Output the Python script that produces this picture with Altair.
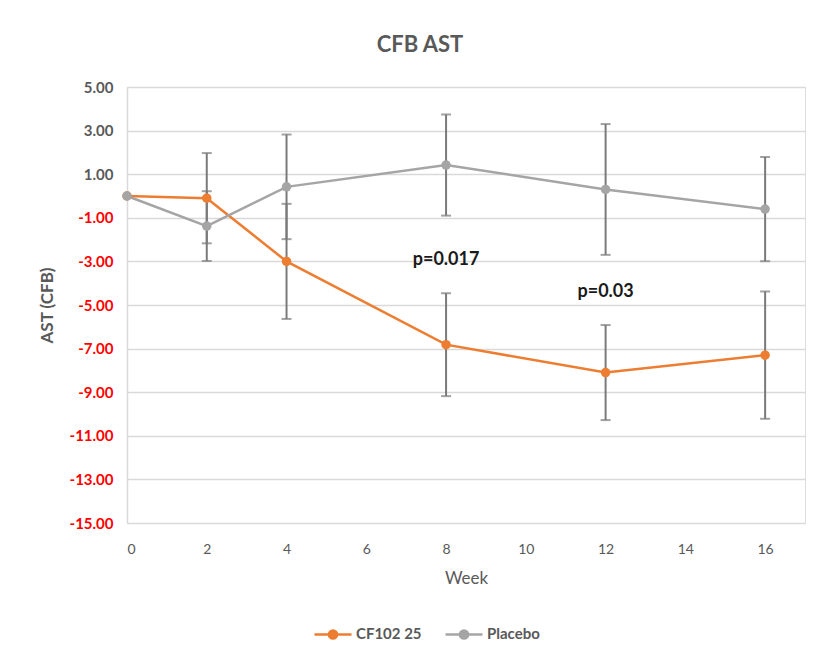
import altair as alt
import pandas as pd

weeks = [0, 2, 4, 8, 12, 16]
series_names = ["CF102 25", "Placebo"]
cf102_mean = [0.0, -0.1, -3.0, -6.82, -8.1, -7.3]
cf102_err = [0.0, 2.07, 2.64, 2.36, 2.18, 2.92]
placebo_mean = [0.0, -1.38, 0.42, 1.42, 0.3, -0.6]
placebo_err = [0.0, 1.6, 2.4, 2.32, 3.0, 2.39]

ann_text = ["p=0.017", "p=0.03"]
ann_week = [8, 12]
ann_y = [-2.94, -4.4]

y_ticks = [5, 3, 1, -1, -3, -5, -7, -9, -11, -13, -15]
x_ticks = [0, 2, 4, 6, 8, 10, 12, 14, 16]

rows = []
for name, m, e in [(series_names[0], cf102_mean, cf102_err), (series_names[1], placebo_mean, placebo_err)]:
    for w, v, s in zip(weeks, m, e):
        rows.append({"series": name, "week": w, "value": v, "lo": v - s, "hi": v + s, "err": s})
df = pd.DataFrame(rows)
err_df = df[df["err"] > 0]
ann_df = pd.DataFrame({"text": ann_text, "week": ann_week, "y": ann_y})

FONT = "Lato"
GREY_TXT = "#595959"

xscale = alt.Scale(domain=[0, 17], nice=False, zero=False)
yscale = alt.Scale(domain=[-15, 5], nice=False, zero=False)
color_scale = alt.Scale(domain=series_names, range=["#ED7D31", "#A5A5A5"])

x_enc = alt.X("week:Q", scale=xscale, title="Week",
              axis=alt.Axis(values=x_ticks, grid=False, domain=False, ticks=False,
                            labelPadding=19, titlePadding=14, labelFontSize=14,
                            labelColor=GREY_TXT, titleFontSize=17, titleColor=GREY_TXT,
                            titleFontWeight="normal", labelFont=FONT, titleFont=FONT))
y_axis = alt.Axis(values=y_ticks, grid=True, gridColor="#D9D9D9", gridWidth=1.3,
                  labelExpr="replace(format(datum.value, '.2f'), '\u2212', '-')",
                  domain=True, domainColor="#D9D9D9", domainWidth=1.5, ticks=False,
                  labelPadding=14, labelFontSize=15, labelFontWeight="bold",
                  labelColor={"expr": "datum.value < 0 ? '#FF0000' : '#595959'"},
                  titlePadding=13, titleFontSize=17, titleColor=GREY_TXT,
                  titleFontWeight="bold", labelFont=FONT, titleFont=FONT)
y_enc = alt.Y("value:Q", scale=yscale, title="AST  (CFB)", axis=y_axis)

base = alt.Chart(df)
err_base = alt.Chart(err_df)

rules = err_base.mark_rule(color="#7A7A7A", strokeWidth=2).encode(
    x=alt.X("week:Q", scale=xscale),
    y=alt.Y("lo:Q", scale=yscale),
    y2="hi:Q",
    detail="series:N",
)
caps_lo = err_base.mark_tick(color="#7A7A7A", orient="horizontal", size=10, thickness=2).encode(
    x=alt.X("week:Q", scale=xscale), y=alt.Y("lo:Q", scale=yscale))
caps_hi = err_base.mark_tick(color="#7A7A7A", orient="horizontal", size=10, thickness=2).encode(
    x=alt.X("week:Q", scale=xscale), y=alt.Y("hi:Q", scale=yscale))

symbol_path = "M-1,0L1,0M-0.22,0A0.22,0.22,0,1,1,0.22,0A0.22,0.22,0,1,1,-0.22,0Z"
legend = alt.Legend(title=None, orient="none", direction="horizontal",
                    legendX=186, legendY=527, symbolType=symbol_path, symbolSize=1369,
                    symbolStrokeWidth=2.5, labelFontSize=15, labelColor=GREY_TXT,
                    labelFontWeight="bold", labelFont=FONT, columnPadding=18, labelOffset=3)

lines = base.mark_line(strokeWidth=2.5).encode(
    x=x_enc, y=y_enc,
    color=alt.Color("series:N", scale=color_scale, legend=legend),
)
points = base.mark_circle(size=90, opacity=1).encode(
    x=alt.X("week:Q", scale=xscale),
    y=alt.Y("value:Q", scale=yscale),
    color=alt.Color("series:N", scale=color_scale, legend=legend),
)

ann = alt.Chart(ann_df).mark_text(fontSize=18, fontWeight="bold", color="#1a1a1a", font=FONT).encode(
    x=alt.X("week:Q", scale=xscale), y=alt.Y("y:Q", scale=yscale), text="text:N")

chart = alt.layer(lines, rules, caps_lo, caps_hi, points, ann).properties(
    width=678, height=436,
    autosize=alt.AutoSizeParams(type="none"),
    padding={"left": 119, "top": 79, "right": 14, "bottom": 131},
    title=alt.TitleParams("CFB AST", fontSize=22, fontWeight="bold", color=GREY_TXT,
                          font=FONT, anchor="middle", dx=-46, offset=23),
).configure_view(stroke=None).configure(background="white")

chart.save("out.html", embed_options={"renderer": "svg", "actions": False})
